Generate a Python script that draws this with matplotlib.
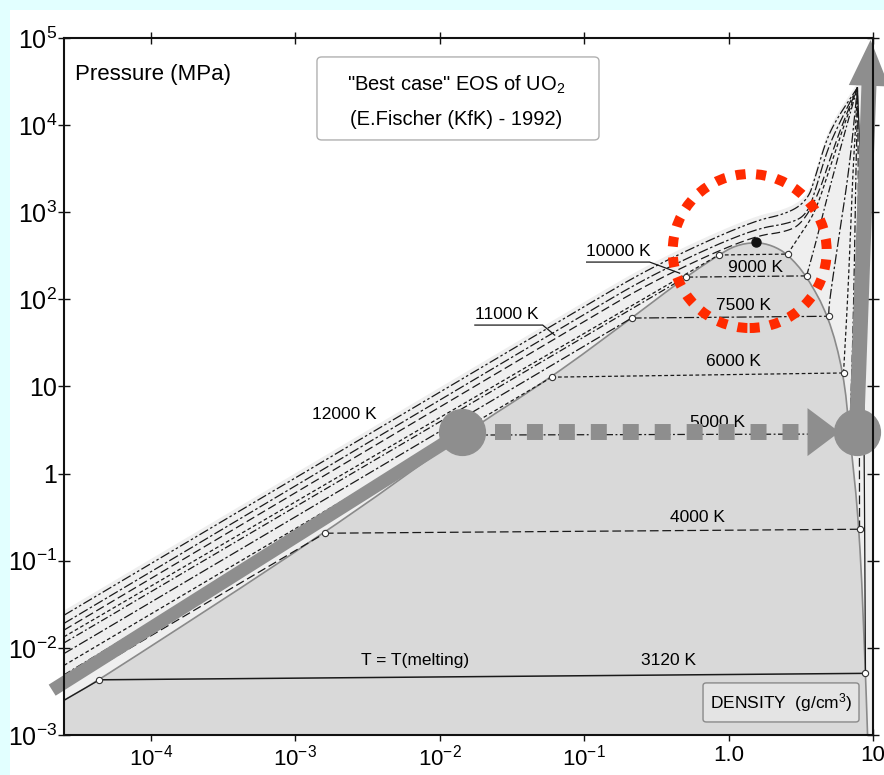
import numpy as np
import matplotlib
matplotlib.use("Agg")
import matplotlib.pyplot as plt
from matplotlib.patches import Polygon, FancyArrowPatch, FancyBboxPatch, Circle, Rectangle, ArrowStyle
from matplotlib.transforms import ScaledTranslation
from matplotlib.ticker import NullLocator

plt.rcParams['font.family'] = ['Liberation Sans', 'DejaVu Sans']
plt.rcParams['mathtext.fontset'] = 'custom'
plt.rcParams['mathtext.rm'] = 'Liberation Sans'
plt.rcParams['mathtext.it'] = 'Liberation Sans:italic'
plt.rcParams['mathtext.bf'] = 'Liberation Sans:bold'

# ---------------- data (density g/cm3, pressure MPa) ----------------
rho_min, rho_max = 2.5e-5, 10.0
p_min, p_max = 1e-3, 1e5

x_ticks = [1e-4, 1e-3, 1e-2, 1e-1, 1.0, 10.0]
x_tick_labels = ["10$^{-4}$", "10$^{-3}$", "10$^{-2}$", "10$^{-1}$", "1.0", "10"]
y_ticks = [1e-3, 1e-2, 1e-1, 1, 10, 1e2, 1e3, 1e4, 1e5]
y_tick_labels = ["10$^{-3}$", "10$^{-2}$", "10$^{-1}$", "1", "10", "10$^2$", "10$^3$", "10$^4$", "10$^5$"]

# saturation (coexistence) dome
dome_rho = [2.5e-5, 4.4e-5, 1.6e-3, 0.0142, 0.0596, 0.213, 0.504, 0.853, 1.12, 1.54,
            2.0, 2.56, 3.47, 4.92, 6.25, 6.9, 8.07, 8.87, 9.17]
dome_p = [2.5e-3, 4.3e-3, 0.207, 2.77, 12.8, 61, 180, 323, 417, 455,
          417, 331, 186, 64, 14.3, 2.85, 0.23, 5.1e-3, 1e-3]
crit_rho, crit_p = 1.54, 455

# subcritical isotherms
T_sub = ["3120 K", "4000 K", "5000 K", "6000 K", "7500 K", "9000 K", "10000 K"]
p_left_edge = [2.5e-3, 3.55e-3, 4.9e-3, 6.3e-3, 8.6e-3, 0.0114, 0.0134]
rho_gas_sat = [4.4e-5, 1.6e-3, 0.0142, 0.0596, 0.213, 0.504, 0.853]
p_gas_sat = [4.3e-3, 0.207, 2.77, 12.8, 61, 180, 323]
rho_liq_sat = [8.87, 8.07, 6.9, 6.25, 4.92, 3.47, 2.56]
p_liq_sat = [5.1e-3, 0.23, 2.85, 14.3, 64, 186, 331]
liq_rho_pts = [[8.71, 8.51, 8.22], [8.04, 7.94, 7.91], [7.24, 7.45, 7.62, 7.76],
               [6.67, 7.0, 7.28, 7.59], [5.0, 5.86, 6.87], [4.06, 4.76, 6.17],
               [3.16, 3.98, 5.01, 6.31]]
liq_p_pts = [[1.0, 100, 3162], [10, 316, 3162], [31.6, 316, 3162, 10000],
             [98, 631, 3162, 10000], [98, 575, 3311], [479, 1380, 6760],
             [562, 1000, 3162, 10000]]
rho_top, p_top = 7.8, 2.69e4

# supercritical isotherms
sup_12000_rho = [2.5e-5, 0.1, 0.316, 1.41, 2.63, 3.55, 3.98, 4.68, 5.5, 7.8]
sup_12000_p = [0.0237, 83, 251, 776, 977, 1413, 2512, 6310, 11220, 26900]
sup_11000_rho = [2.5e-5, 0.1, 0.316, 1.41, 2.82, 3.55, 4.07, 4.79, 5.75, 7.8]
sup_11000_p = [0.0191, 67.6, 204, 631, 759, 1000, 1995, 5012, 10000, 26900]
sup_near_rho = [2.5e-5, 0.1, 0.316, 1.41, 2.63, 3.31, 4.17, 5.01, 6.1, 7.8]
sup_near_p = [0.0160, 56, 170, 525, 603, 794, 1585, 3981, 10000, 26900]

# label positions (density, pressure)
label_text = ["T = T(melting)", "3120 K", "4000 K", "5000 K", "6000 K", "7500 K", "9000 K", "10000 K", "11000 K", "12000 K"]
label_rho = [6.7e-3, 0.385, 0.611, 0.839, 1.08, 1.27, 1.54, 0.171, 0.0291, 2.2e-3]
label_p = [7.2e-3, 7.1e-3, 0.317, 3.9, 19.6, 86, 235, 359, 67.8, 4.82]
lead_10000_rho = [0.104, 0.284, 0.458]
lead_10000_p = [268, 268, 200]
lead_11000_rho = [0.0175, 0.0516, 0.0625]
lead_11000_p = [50.7, 50.7, 38.9]

# overlay path (density, pressure)
path_start = (2.07e-5, 3.27e-3)
path_left = (0.01419, 3.0)
path_right = (7.69, 3.0)
path_top = (9.62, 9.5e4)
squares_rho = [0.0240, 3.05]
tri_rho = [3.52, 3.52, 5.86]
tri_p = [5.65, 1.59, 3.0]
ring_center = (1.40, 359)

# ---------------- helpers ----------------
def smooth(x, y, n=3):
    P = np.column_stack([np.log10(x), np.log10(y)])
    for _ in range(n):
        Q = [P[0]]
        for a, b in zip(P[:-1], P[1:]):
            Q += [0.75 * a + 0.25 * b, 0.25 * a + 0.75 * b]
        Q.append(P[-1])
        P = np.array(Q)
    return 10 ** P[:, 0], 10 ** P[:, 1]

styles_sub = ['-', (0, (7, 3)), (0, (6, 2, 1.5, 2)), (0, (3, 2)), (0, (8, 2, 2, 2)),
              (0, (6, 2, 1.5, 2)), (0, (3, 2))]
LC = '#1a1a1a'
LW = 0.9
GRAY = '#8e8e8e'

fig = plt.figure(figsize=(8.84, 7.75), dpi=100)
fig.patch.set_facecolor('#e2ffff')
fig.add_artist(Rectangle((10 / 884, 0), 1 - 10 / 884, 1 - 10 / 775, transform=fig.transFigure,
                         facecolor='white', edgecolor='none', zorder=-10))
ax = fig.add_axes([64 / 884, 40 / 775, 809 / 884, 697 / 775])
ax.set_xscale('log')
ax.set_yscale('log')
ax.set_xlim(rho_min, rho_max)
ax.set_ylim(p_min, p_max)
ax.set_facecolor('white')

# light band under the top isotherm
tx, ty = smooth(sup_12000_rho, sup_12000_p)
band_x = list(tx) + [rho_max, rho_max, rho_min]
band_y = list(ty * 1.13) + [p_top * 1.13, p_min, p_min]
ax.fill(band_x, band_y, color='#efefef', lw=0, zorder=1)

# dome
dx, dy = smooth(dome_rho, dome_p, 2)
ax.fill(list(dx) + [rho_min], list(dy) + [p_min], color='#d9d9d9', lw=0, zorder=2)
ax.plot(dx, dy, color='#8a8a8a', lw=1.2, zorder=3)

# subcritical isotherms
for i in range(len(T_sub)):
    gx, gy = [rho_min, rho_gas_sat[i]], [p_left_edge[i], p_gas_sat[i]]
    ax.plot(gx, gy, color=LC, lw=LW, ls=styles_sub[i], zorder=4)
    ax.plot([rho_gas_sat[i], rho_liq_sat[i]], [p_gas_sat[i], p_liq_sat[i]],
            color=LC, lw=LW if i else 1.1, ls=styles_sub[i], zorder=4)
    lx = [rho_liq_sat[i]] + liq_rho_pts[i] + [rho_top]
    ly = [p_liq_sat[i]] + liq_p_pts[i] + [p_top]
    lx, ly = smooth(lx, ly)
    ax.plot(lx, ly, color=LC, lw=LW, ls=styles_sub[i], zorder=4)

# supercritical isotherms
for xs, ys, st in [(sup_12000_rho, sup_12000_p, (0, (8, 2, 2, 2, 2, 2))),
                   (sup_11000_rho, sup_11000_p, (0, (8, 2, 2, 2))),
                   (sup_near_rho, sup_near_p, (0, (7, 3)))]:
    sx, sy = smooth(xs, ys)
    ax.plot(sx, sy, color=LC, lw=LW, ls=st, zorder=4)

# saturation points
ax.plot(rho_gas_sat + rho_liq_sat, p_gas_sat + p_liq_sat, 'o', ms=4.5, mfc='white',
        mec='#333333', mew=0.8, zorder=5, ls='none')
ax.plot([crit_rho], [crit_p], 'o', ms=6.5, color='#111111', zorder=5)

# labels
for t, x, y in zip(label_text, label_rho, label_p):
    ax.text(x, y, t, fontsize=12.5, ha='center', va='center', zorder=5)
ax.plot(lead_10000_rho, [v * 1.0 for v in lead_10000_p], color=LC, lw=0.9, zorder=5)
ax.plot(lead_11000_rho, lead_11000_p, color=LC, lw=0.9, zorder=5)

# overlay: path arrows
ax.plot([path_start[0], path_left[0]], [path_start[1], path_left[1]], color=GRAY, lw=9.4,
        solid_capstyle='butt', zorder=6, clip_on=False)
ax.plot(squares_rho, [path_left[1]] * 2, color=GRAY, lw=11.5, ls=(0, (1, 1)),
        dash_capstyle='butt', zorder=6)
ax.add_patch(Polygon(list(zip(tri_rho, tri_p)), closed=True, facecolor=GRAY, edgecolor='none', zorder=6))
ax.add_patch(FancyArrowPatch(posA=path_right, posB=path_top,
                             arrowstyle=ArrowStyle.Simple(head_length=33, head_width=29, tail_width=10.8),
                             mutation_scale=1, shrinkA=0, shrinkB=0, color=GRAY, lw=0,
                             zorder=6, clip_on=False))
ax.plot([path_left[0], path_right[0]], [path_left[1], path_right[1]], 'o', ls='none', ms=33,
        color=GRAY, zorder=7, clip_on=False)

# red dotted ring
ring = Circle((0, 0), radius=0.77, transform=fig.dpi_scale_trans + ScaledTranslation(ring_center[0], ring_center[1], ax.transData),
              fill=False, edgecolor='#ff2a00', lw=7.2, ls=(0, (1, 1.05)), zorder=8, clip_on=False)
ax.add_patch(ring)

# boxes
ax.add_patch(FancyBboxPatch((0.3127, 0.8537), 0.3486, 0.1191, boxstyle='round,pad=0,rounding_size=0.006',
                            transform=ax.transAxes, facecolor='white', edgecolor='#b0b0b0', lw=1, zorder=8))
ax.text(0.4845, 0.9326, '"Best case" EOS of UO$_2$', transform=ax.transAxes, fontsize=14.5,
        ha='center', va='center', zorder=9)
ax.text(0.4845, 0.8824, '(E.Fischer (KfK) - 1992)', transform=ax.transAxes, fontsize=14.5,
        ha='center', va='center', zorder=9)
ax.add_patch(FancyBboxPatch((0.7899, 0.0187), 0.1928, 0.056, boxstyle='round,pad=0,rounding_size=0.004',
                            transform=ax.transAxes, facecolor='#e4e4e4', edgecolor='#8a8a8a', lw=1, zorder=8))
ax.text(0.8863, 0.0459, 'DENSITY  (g/cm$^3$)', transform=ax.transAxes, fontsize=12.5,
        ha='center', va='center', zorder=9)
ax.text(0.0136, 0.947, 'Pressure (MPa)', transform=ax.transAxes, fontsize=16,
        ha='left', va='center', zorder=9)

# axes styling
ax.set_xticks(x_ticks)
ax.set_xticklabels(x_tick_labels)
ax.set_yticks(y_ticks)
ax.set_yticklabels(y_tick_labels)
ax.xaxis.set_minor_locator(NullLocator())
ax.yaxis.set_minor_locator(NullLocator())
ax.tick_params(which='both', direction='inout', length=8, width=1, top=True, right=True,
               labeltop=False, labelright=False, color='#111111')
ax.tick_params(axis='y', pad=1, labelsize=18)
ax.tick_params(axis='x', pad=3, labelsize=16)
for s in ax.spines.values():
    s.set_linewidth(1.5)
    s.set_color('#111111')
    s.set_zorder(10)

fig.savefig('out.png', dpi=100, facecolor=fig.get_facecolor())
